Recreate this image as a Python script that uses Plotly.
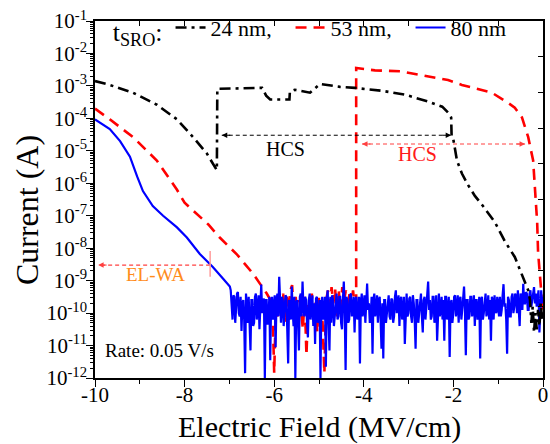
import numpy as np
import plotly.graph_objects as go

# ---------------------------------------------------------------------------
# I-E sweeps for three SRO thicknesses; currents stored as log10(I / A)
# ---------------------------------------------------------------------------

# 24 nm sample
field_24 = [-10.0, -9.67, -9.15, -8.62, -8.17, -7.81, -7.50, -7.32, -7.28,
            -7.27, -6.80, -6.40, -6.27, -6.18, -6.09, -5.66, -5.65, -5.54,
            -5.20, -4.98, -4.53, -4.20, -3.60, -3.08, -2.57, -2.25, -2.12,
            -2.05, -2.04, -2.01, -1.92, -1.81, -1.67, -1.52, -1.34, -1.07,
            -0.85, -0.63, -0.47, -0.33,
            -0.29, -0.26, -0.23, -0.20, -0.17, -0.14, -0.11, -0.08, -0.05,
            -0.02, 0.0]
logi_24 = [-2.85, -2.97, -3.21, -3.58, -4.03, -4.58, -5.09, -5.48, -5.60,
           -3.09, -3.08, -3.05, -3.06, -3.30, -3.42, -3.42, -3.18, -3.12,
           -3.21, -2.94, -3.03, -3.06, -3.15, -3.27, -3.48, -3.64, -3.82,
           -3.97, -4.55, -4.58, -5.30, -5.70, -6.06, -6.39, -6.70, -7.21,
           -7.79, -8.27, -8.79, -9.30,
           -9.6, -10.3, -9.8, -10.6, -10.0, -10.5, -9.9, -10.4, -9.7,
           -10.2, -9.8]

# 53 nm sample: leakage branch, noise floor, then high-current state
field_53_low = [-10.0, -9.67, -9.15, -8.62, -8.17, -8.00, -7.47, -7.21,
                -6.84, -6.47, -6.17, -6.08]
logi_53_low = [-3.70, -4.03, -4.58, -5.30, -6.20, -6.60, -7.27, -7.68,
               -8.18, -8.79, -9.39, -9.60]
logi_53_floor = [-9.7, -11.85, -9.6, -10.2, -9.5, -10.0, -9.4, -10.3, -9.5,
                 -9.9, -9.3, -9.14, -10.1, -9.5, -10.4, -9.6, -9.9, -10.5,
                 -9.5, -11.3, -9.7, -10.0, -9.4, -10.2, -9.6, -10.6, -9.5,
                 -9.8, -10.3, -11.85, -9.6, -9.3, -10.0, -9.2, -9.7, -9.25,
                 -10.1, -9.3, -9.9, -9.2, -9.6, -9.3, -10.2, -9.4, -9.8,
                 -9.3, -9.9]
field_53_floor = np.linspace(-6.04, -4.20, len(logi_53_floor))
field_53_high = [-4.17, -4.17, -3.75, -3.19, -2.70, -2.12, -1.81, -1.45,
                 -1.14, -0.78, -0.63, -0.47, -0.33, -0.22, -0.18, -0.13,
                 -0.11, -0.07, -0.04, -0.02, 0.0]
logi_53_high = [-10.0, -2.45, -2.52, -2.55, -2.67, -2.82, -2.97, -3.09,
                -3.21, -3.52, -3.67, -3.97, -4.58, -5.30, -6.21, -7.21,
                -8.12, -8.73, -9.33, -9.94, -9.70]

# 80 nm sample: leakage branch, then noise floor up to 0 MV/cm
field_80_low = [-10.0, -9.67, -9.44, -9.22, -9.06, -8.93, -8.71, -8.48,
                -8.17, -7.95, -7.66, -7.37, -7.14, -6.99]
logi_80_low = [-4.03, -4.33, -4.70, -5.18, -5.79, -6.24, -6.70, -7.00,
               -7.36, -7.67, -8.18, -8.58, -8.94, -9.18]
logi_80_floor = [
    -9.3, -9.9, -10.2, -9.45, -9.5, -10.3, -9.7, -9.4, -9.35, -10.0,
    -10.1, -9.5, -10.55, -9.7, -9.6, -10.2, -11.85, -9.4, -9.8, -10.3,
    -9.5, -10.1, -11.15, -9.6, -9.6, -10.4, -10.3, -9.5, -9.4, -10.2,
    -9.9, -9.45, -10.5, -9.8, -9.12, -10.0, -9.7, -9.55, -12.0, -9.6,
    -9.6, -10.35, -10.2, -9.5, -11.45, -9.7, -9.5, -10.2, -9.8, -9.45,
    -11.05, -9.6, -9.4, -10.1, -8.88, -9.9, -10.3, -9.5, -9.6, -10.4,
    -10.0, -9.45, -9.5, -10.3, -11.55, -9.6, -9.7, -10.2, -9.18, -9.9,
    -10.4, -9.5, -12.0, -9.7, -9.6, -10.3, -11.15, -9.5, -9.4, -10.1,
    -9.03, -9.8, -10.1, -9.5, -9.6, -10.3, -10.75, -9.6, -9.4, -10.2,
    -9.9, -9.45, -10.4, -9.7, -10.95, -9.55, -9.5, -10.3, -10.2, -9.6,
    -12.0, -9.7, -9.5, -10.2, -9.9, -9.5, -11.65, -9.6, -9.3, -10.1,
    -11.15, -9.5, -10.3, -9.45, -9.6, -10.4, -10.0, -9.5, -9.4, -10.2,
    -10.1, -9.5, -9.5, -10.3, -10.5, -9.6, -9.03, -9.9, -11.75, -9.5,
    -9.6, -10.3, -10.2, -9.45, -9.4, -10.1, -9.9, -9.5, -10.6, -9.6,
    -9.5, -10.2, -10.0, -9.5, -11.55, -9.7, -9.4, -10.1, -9.8, -9.45,
    -10.3, -9.6, -9.09, -9.9, -9.7, -10.3, -10.1, -9.5, -11.25, -9.6,
    -9.4, -10.1, -9.9, -9.45, -10.3, -9.6, -9.5, -10.2, -11.1, -9.7,
    -11.4, -9.6, -9.6, -10.3, -10.0, -9.5, -9.45, -10.1, -10.2, -9.55,
    -9.6, -10.3, -10.1, -9.5, -9.3, -10.0, -9.8, -9.45, -10.4, -9.6,
    -9.5, -10.2, -9.9, -9.5, -10.95, -9.7, -9.4, -10.1, -10.0, -9.55,
    -9.5, -10.1, -10.3, -9.45, -9.7, -10.2, -11.1, -9.6, -9.6, -10.3,
    -10.0, -9.5, -9.4, -10.1, -10.6, -9.6, -9.5, -10.2, -9.8, -9.4,
    -9.03, -9.9, -9.6, -10.2, -10.1, -9.5, -9.5, -10.3, -9.8, -9.45,
    -10.85, -9.6, -9.4, -10.1, -9.9, -9.5, -10.2, -9.6, -10.85, -9.5,
    -9.5, -10.2, -9.9, -9.5, -11.35, -9.7, -9.6, -10.3, -10.0, -9.5,
    -9.45, -10.1, -9.8, -9.45, -10.3, -9.6, -9.5, -10.2, -9.9, -9.4,
    -9.18, -9.9, -11.3, -9.6, -9.6, -10.2, -10.1, -9.5, -9.5, -10.1,
    -9.9, -9.45, -10.4, -9.6, -9.6, -10.2, -9.8, -9.5, -11.4, -9.6,
    -9.5, -10.2, -10.0, -9.5, -9.4, -10.1, -9.9, -9.45, -10.2, -9.6,
    -10.85, -9.5, -9.6, -10.2, -9.45, -9.9, -10.0, -9.5, -9.7, -10.1,
    -9.5, -10.1, -9.9, -9.45, -9.11, -9.8, -9.7, -10.2, -11.25, -9.5,
    -9.6, -10.1, -10.1, -9.5, -9.4, -10.0, -9.8, -9.4, -9.5, -10.0,
    -9.3, -9.9, -10.4, -9.4, -9.5, -9.9, -9.1, -9.7, -9.7, -9.35,
    -9.4, -9.9, -9.9, -9.4, -9.3, -9.8, -9.6, -9.3, -9.2, -9.7,
    -9.4, -9.8, -9.6, -9.3, -10.6, -9.5, -9.3, -9.7, -9.5,
]
field_80_floor = np.linspace(-6.97, 0.0, len(logi_80_floor))

# axis ticks
x_ticks = [-10, -8, -6, -4, -2, 0]
x_ticktext = ["-10", "-8", "-6", "-4", "-2", "0"]
y_exponents = list(range(-12, 0))
y_ticks = [10.0 ** e for e in y_exponents]
y_ticktext = ["10<sup>%d</sup>" % e for e in y_exponents]

# HCS windows and the EL-WA marker (field in MV/cm, log10 current)
hcs_24 = (-7.17, -2.05, -4.52)
hcs_53 = (-4.04, -0.40, -4.79)
elwa_field = -7.43
elwa_level = -8.52
elwa_span = (-8.09, -8.88)
elwa_tail = -9.93

FONT = "Liberation Serif"


def amps(logs):
    return [10.0 ** v for v in logs]


fig = go.Figure()

fig.add_trace(go.Scatter(
    x=list(field_53_low) + list(field_53_floor) + list(field_53_high),
    y=amps(list(logi_53_low) + list(logi_53_floor) + list(logi_53_high)),
    mode="lines", name="53 nm,", legendrank=2,
    line=dict(color="#ff0000", width=2.6, dash="11px,7px"),
))
fig.add_trace(go.Scatter(
    x=list(field_80_low) + list(field_80_floor),
    y=amps(list(logi_80_low) + list(logi_80_floor)),
    mode="lines", name="80 nm", legendrank=3,
    line=dict(color="#0000ff", width=2.2),
))
fig.add_trace(go.Scatter(
    x=field_24, y=amps(logi_24),
    mode="lines", name="24 nm,", legendrank=1,
    line=dict(color="#000000", width=2.6, dash="11px,5px,3px,5px"),
))

# dashed guide lines of the annotations
guide = dict(mode="lines", showlegend=False, hoverinfo="skip")
fig.add_trace(go.Scatter(x=[hcs_24[0], hcs_24[1]], y=amps([hcs_24[2]] * 2),
                         line=dict(color="black", width=1, dash="4px,3px"), **guide))
fig.add_trace(go.Scatter(x=[hcs_53[0], hcs_53[1]], y=amps([hcs_53[2]] * 2),
                         line=dict(color="#ff4040", width=1, dash="4px,3px"), **guide))
fig.add_trace(go.Scatter(x=[elwa_field, elwa_tail], y=amps([elwa_level] * 2),
                         line=dict(color="#ff4040", width=1.2, dash="4px,3px"), **guide))
fig.add_trace(go.Scatter(x=[elwa_field, elwa_field], y=amps(list(elwa_span)),
                         line=dict(color="#ff9a9a", width=1.5), **guide))

# frame ticks on top / right
fig.add_trace(go.Scatter(x=[], y=[], xaxis="x2", yaxis="y2",
                         showlegend=False, hoverinfo="skip"))


def head(x, y, dx, color):
    return dict(x=x, y=y, xref="x", yref="y", text="", showarrow=True,
                ax=dx, ay=0, axref="pixel", ayref="pixel",
                arrowhead=2, arrowsize=1.1, arrowwidth=1, arrowcolor=color)


annotations = [
    head(hcs_24[0], hcs_24[2], 10, "black"),
    head(hcs_24[1], hcs_24[2], -10, "black"),
    head(hcs_53[0], hcs_53[2], 10, "#ff4040"),
    head(hcs_53[1], hcs_53[2], -10, "#ff4040"),
    head(elwa_tail, elwa_level, 10, "#ff4040"),
    dict(x=-5.74, y=-4.94, text="HCS", showarrow=False,
         font=dict(family=FONT, size=20, color="black")),
    dict(x=-2.81, y=-5.09, text="HCS", showarrow=False,
         font=dict(family=FONT, size=20, color="#ff1a1a")),
    dict(x=-8.66, y=-8.82, text="EL-WA", showarrow=False,
         font=dict(family=FONT, size=19, color="#ff8c1a")),
    dict(x=-9.83, y=-11.15, text="Rate: 0.05 V/s", showarrow=False,
         xanchor="left", font=dict(family=FONT, size=19, color="black")),
    # axis titles
    dict(x=0.502, y=-0.137, xref="paper", yref="paper", showarrow=False,
         text="Electric Field (MV/cm)", xanchor="center", yanchor="middle",
         font=dict(family=FONT, size=30, color="black")),
    dict(x=-0.152, y=0.47, xref="paper", yref="paper", showarrow=False,
         text="Current (A)", textangle=-90, xanchor="center", yanchor="middle",
         font=dict(family=FONT, size=32, color="black")),
]

fig.update_layout(
    width=550, height=444,
    margin=dict(l=95, r=7, t=15, b=66),
    paper_bgcolor="white", plot_bgcolor="white",
    font=dict(family=FONT, color="black"),
    showlegend=True,
    legend=dict(
        orientation="h", x=0.035, y=1.04, xanchor="left", yanchor="top",
        bgcolor="rgba(0,0,0,0)", font=dict(family=FONT, size=22),
        title=dict(text="t<sub>SRO</sub>:", side="left",
                   font=dict(family=FONT, size=26)),
        entrywidth=75, entrywidthmode="pixels", tracegroupgap=0,
    ),
    xaxis=dict(
        range=[-10, 0], tickmode="array", tickvals=x_ticks, ticktext=x_ticktext,
        ticks="outside", ticklen=7, tickwidth=1.3, tickcolor="black",
        ticklabelstandoff=-10,
        minor=dict(ticks="outside", ticklen=4, dtick=1, tick0=0,
                   tickcolor="black", showgrid=False),
        showline=True, linecolor="black", linewidth=1.6,
        showgrid=False, zeroline=False, automargin=False,
        tickfont=dict(family=FONT, size=21),
    ),
    yaxis=dict(
        type="log", range=[-12, -1], tickmode="array",
        tickvals=y_ticks, ticktext=y_ticktext,
        ticks="outside", ticklen=7, tickwidth=1.3, tickcolor="black",
        ticklabelstandoff=-5,
        minor=dict(ticks="outside", ticklen=3.5, dtick="D1",
                   tickcolor="black", showgrid=False),
        showline=True, linecolor="black", linewidth=1.6,
        showgrid=False, zeroline=False, automargin=False,
        tickfont=dict(family=FONT, size=21),
    ),
    xaxis2=dict(
        overlaying="x", side="top", anchor="y2", range=[-10, 0], dtick=1,
        ticks="inside", ticklen=5, tickcolor="black", showticklabels=False,
        showline=True, linecolor="black", linewidth=1.6,
        showgrid=False, zeroline=False, automargin=False,
    ),
    yaxis2=dict(
        overlaying="y", side="right", anchor="x2", range=[0, 10], dtick=1,
        ticks="inside", ticklen=5, tickcolor="black", showticklabels=False,
        showline=True, linecolor="black", linewidth=1.6,
        showgrid=False, zeroline=False, automargin=False,
    ),
    annotations=annotations,
)

fig.write_html("out.html")
